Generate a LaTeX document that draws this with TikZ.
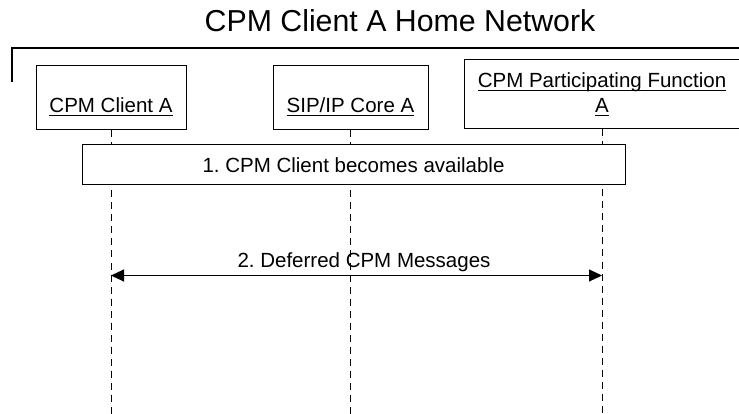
\documentclass[tikz,border=0pt]{standalone}
\usepackage{fontspec}
\setmainfont{Liberation Sans}
\usetikzlibrary{arrows.meta, positioning, calc}

% underlined entity name
\newcommand{\ulname}[1]{\setbox0\hbox{#1}\rlap{\copy0}\rule[-3.5pt]{\wd0}{1pt}}

\begin{document}
\frenchspacing
\begin{tikzpicture}[x=1pt, y=-1pt,
    entity/.style={draw, line width=1pt, inner sep=0pt, font=\fontsize{20.5}{25}\selectfont},
    stepbox/.style={draw, line width=1pt, inner sep=0pt, font=\fontsize{20.5}{25}\selectfont},
    lifeline/.style={line width=1pt, dash pattern=on 7pt off 5pt},
    msg/.style={line width=1pt, {Triangle[length=13pt, width=12pt]}-{Triangle[length=13pt, width=12pt]}}]
    \useasboundingbox (0,0) rectangle (739,414);

    % Network title and bracket
    \node[anchor=base, font=\fontsize{30.3}{36}\selectfont] (title) at (400,32) {CPM Client A Home Network};
    \draw[line width=1.2pt] (12,82) -- (12,48) -- (745,48);

    % Entities
    \node[entity, minimum width=150pt, minimum height=64pt, text height=30pt, text depth=0pt] (client) at (111,98) {\ulname{CPM Client A}};
    \node[entity, minimum width=155pt, minimum height=64pt, text height=30pt, text depth=0pt] (core) at (350.5,98) {\ulname{SIP/IP Core A}};
    \node[entity, minimum width=276pt, minimum height=69pt, align=center] (pf) at (602,94.5) {\ulname{CPM Participating Function}\\ \ulname{A}};

    % Lifelines
    \coordinate (clientend) at (client.south |- 0,414);
    \coordinate (coreend) at (core.south |- 0,414);
    \coordinate (pfend) at (pf.south |- 0,414);
    \draw[lifeline] (client.south) -- (clientend);
    \draw[lifeline] (core.south) -- (coreend);
    \draw[lifeline] (pf.south) -- (pfend);

    % Step 1
    \node[stepbox, minimum width=543pt, minimum height=40pt, fill=white] (avail) at (353.5,165) {1. CPM Client becomes available};

    % Step 2
    \coordinate (msgfrom) at (client.south |- 0,275.5);
    \coordinate (msgto) at (pf.south |- 0,275.5);
    \draw[msg] (msgfrom) -- (msgto);
    \node[anchor=base, font=\fontsize{20.5}{25}\selectfont] (deferred) at (364,267) {2. Deferred CPM Messages};
\end{tikzpicture}
\end{document}
